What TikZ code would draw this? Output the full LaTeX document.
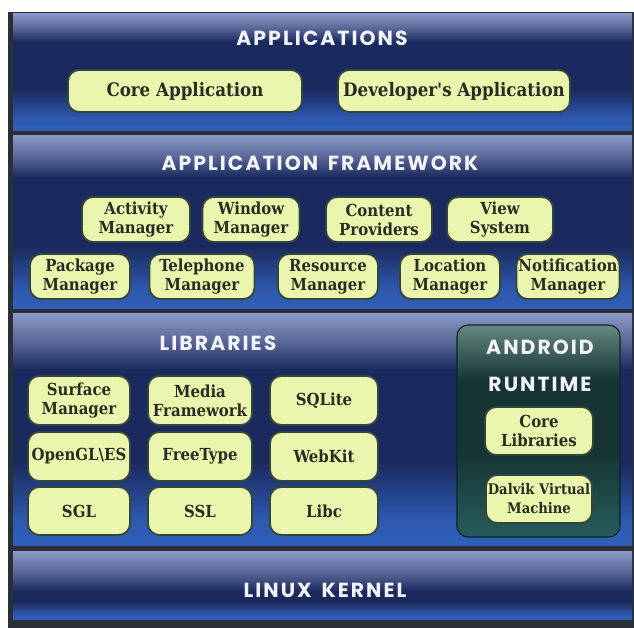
\documentclass[tikz,border=0pt]{standalone}
\usepackage{fontspec}
\usepackage{xcolor}
\usetikzlibrary{positioning}
\newfontfamily\headfont{Poppins}[LetterSpace=10]
\newfontfamily\boxfont{DejaVu Serif Condensed}
\definecolor{FrameDark}{HTML}{2A3036}
\definecolor{BandLight}{HTML}{8A98C6}
\definecolor{BandDark}{HTML}{1B2A5E}
\definecolor{BandBright}{HTML}{3060BA}
\definecolor{RunLight}{HTML}{668880}
\definecolor{RunDark}{HTML}{163434}
\definecolor{RunBottom}{HTML}{285C5C}
\definecolor{BoxFill}{HTML}{EAF5AE}
\definecolor{BoxLine}{HTML}{34463A}
\definecolor{BoxText}{HTML}{2B2B22}
\definecolor{TitleText}{HTML}{F2F4FA}
% the path is mapped onto 25bp--75bp of the shading
\pgfdeclareverticalshading{band}{100bp}{color(0bp)=(BandBright); color(25bp)=(BandBright); color(31bp)=(BandBright!85!BandDark); color(43bp)=(BandDark); color(63bp)=(BandDark); color(69bp)=(BandLight!55!BandDark); color(75bp)=(BandLight); color(100bp)=(BandLight)}
\pgfdeclareverticalshading{kernelband}{100bp}{color(0bp)=(BandBright); color(25bp)=(BandBright); color(30bp)=(BandBright!80!BandDark); color(38bp)=(BandDark); color(46bp)=(BandDark); color(60bp)=(BandLight!55!BandDark); color(75bp)=(BandLight); color(100bp)=(BandLight)}
\pgfdeclareverticalshading{runtime}{100bp}{color(0bp)=(RunBottom); color(25bp)=(RunBottom); color(33bp)=(RunBottom!60!RunDark); color(45bp)=(RunDark); color(62bp)=(RunDark); color(75bp)=(RunLight); color(100bp)=(RunLight)}

\begin{document}
\begin{tikzpicture}[
  x=0.025cm, y=-0.025cm,
  layer/.style={rectangle, shading=band, minimum width=619*0.025cm, minimum height=#1*0.025cm, inner sep=0pt},
  title/.style={text=TitleText, font=\headfont\bfseries\fontsize{14.5}{17}\selectfont},
  comp/.style 2 args={draw=BoxLine, line width=1.3pt, fill=BoxFill, rounded corners=8pt, align=center, text=BoxText, inner sep=1pt, minimum width=#1*0.025cm, minimum height=#2*0.025cm, font=\boxfont\bfseries\fontsize{11.8}{13.5}\selectfont},
  appbox/.style={font=\boxfont\bfseries\fontsize{13.2}{15}\selectfont},
  small/.style={font=\boxfont\bfseries\fontsize{10.4}{13.5}\selectfont},
  runbox/.style={rectangle, rounded corners=8pt, shading=runtime, draw=RunDark!70!black, line width=0.8pt, minimum width=163*0.025cm, minimum height=212*0.025cm}
]
\useasboundingbox (0,0) rectangle (634,628);
\fill[white] (0,0) rectangle (634,628);
\fill[FrameDark] (8,12) rectangle (634,628);

% Layers
\node[layer=117] (apps) at (322.5,72.5) {};
\node[layer=173] (fw) at (322.5,222.5) {};
\node[layer=232] (libs) at (322.5,430) {};
\node[layer=68, shading=kernelband] (kernel) at (322.5,586) {};

% Applications
\node[title] (appsT) at (322,38) {APPLICATIONS};
\node[comp={234}{42}, appbox] (core) at (185,91) {Core Application};
\node[comp={232}{42}, appbox] (dev) at (454,91) {Developer's Application};

% Application framework
\node[title] (fwT) at (320,163) {APPLICATION\, FRAMEWORK};
\node[comp={108}{45}] (act) at (136,219.5) {Activity\\Manager};
\node[comp={97}{45}] (win) at (251,219.5) {Window\\Manager};
\node[comp={106}{45}] (cont) at (379,219.5) {Content\\Providers};
\node[comp={106}{45}] (view) at (500,219.5) {View\\System};
\node[comp={100}{45}] (pkg) at (80,276.5) {Package\\Manager};
\node[comp={105}{45}] (tel) at (202,276.5) {Telephone\\Manager};
\node[comp={100}{45}] (res) at (328,276.5) {Resource\\Manager};
\node[comp={100}{45}] (loc) at (450,276.5) {Location\\Manager};
\node[comp={103}{45}] (notif) at (568,276.5) {Notification\\Manager};

% Libraries
\node[title] (libsT) at (218,343) {LIBRARIES};
\node[comp={102}{49}] (surf) at (79,400.5) {Surface\\Manager};
\node[comp={104}{49}] (media) at (200,400.5) {Media\\Framework};
\node[comp={108}{49}] (sql) at (324,400.5) {SQLite};
\node[comp={102}{49}] (gl) at (79,456.5) {OpenGL\textbackslash ES};
\node[comp={104}{49}] (ft) at (200,456.5) {FreeType};
\node[comp={108}{49}] (wk) at (324,456.5) {WebKit};
\node[comp={102}{48}] (sgl) at (79,511) {SGL};
\node[comp={104}{48}] (ssl) at (200,511) {SSL};
\node[comp={108}{48}] (libc) at (324,511) {Libc};

% Android runtime
\node[runbox] (run) at (538.5,431) {};
\node[title] (andT) at (540,347) {ANDROID};
\node[title] (runT) at (540,384) {RUNTIME};
\node[comp={108}{48}] (corelib) at (539,431) {Core\\Libraries};
\node[comp={106}{48}, small] (dalvik) at (539,499) {Dalvik Virtual\\Machine};

% Kernel
\node[title] (kerT) at (325,590) {LINUX\, KERNEL};
\end{tikzpicture}
\end{document}
